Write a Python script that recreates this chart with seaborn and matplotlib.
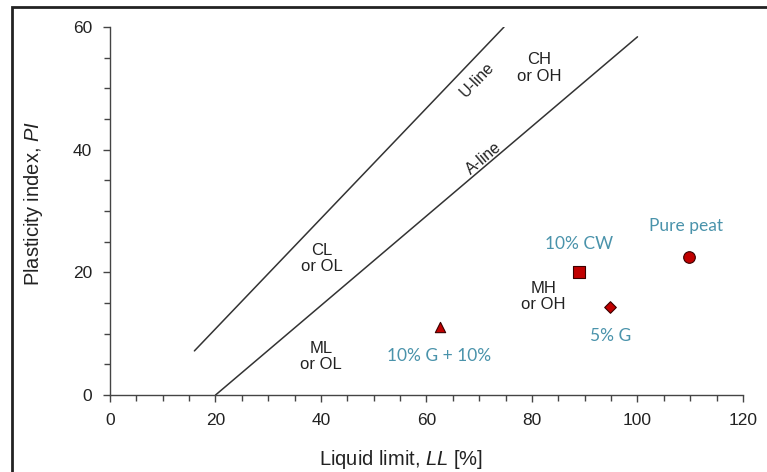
import numpy as np
import pandas as pd
import seaborn as sns
import matplotlib.pyplot as plt
from matplotlib.ticker import MultipleLocator
from matplotlib.patches import Rectangle

# -------------------------------
# data
# -------------------------------
U_LL = [16, 74.7]
U_PI = [7.2, 60]
A_LL = [20, 100]
A_PI = [0, 58.4]

SAMPLES = ["10% G + 10%", "10% CW", "5% G", "Pure peat"]
SAMPLE_LL = [62.5, 89.0, 94.8, 109.7]
SAMPLE_PI = [11.1, 20.0, 14.3, 22.5]
SAMPLE_MARKERS = ["^", "s", "D", "o"]
SAMPLE_SIZES = [55, 80, 35, 70]
LABEL_LL = [62.4, 89.0, 94.9, 109.2]
LABEL_PI = [6.4, 24.6, 9.7, 27.5]

ZONES = ["CL\nor OL", "ML\nor OL", "MH\nor OH", "CH\nor OH"]
ZONE_LL = [40.2, 40.0, 82.1, 81.4]
ZONE_PI = [22.2, 6.3, 16.1, 53.3]

sns.set_style("ticks")
plt.rcParams["font.family"] = ["Liberation Sans", "DejaVu Sans"]
plt.rcParams["mathtext.fontset"] = "custom"
plt.rcParams["mathtext.rm"] = "Liberation Sans"
plt.rcParams["mathtext.it"] = "Liberation Sans:italic"

LINE_C = "#333333"
TEXT_C = "#222222"
BLUE = "#4a93ab"

fig = plt.figure(figsize=(7.67, 4.72), dpi=100)
ax = fig.add_axes([0.1434, 0.163, 0.8253, 0.7798])

lines = pd.DataFrame({
    "LL": U_LL + A_LL,
    "PI": U_PI + A_PI,
    "line": ["U"] * len(U_LL) + ["A"] * len(A_LL),
})
sns.lineplot(data=lines, x="LL", y="PI", units="line", estimator=None,
             color=LINE_C, lw=1.1, ax=ax, sort=False)

samples = pd.DataFrame({"LL": SAMPLE_LL, "PI": SAMPLE_PI, "name": SAMPLES})
for i, row in samples.iterrows():
    sns.scatterplot(x=[row.LL], y=[row.PI], marker=SAMPLE_MARKERS[i],
                    s=SAMPLE_SIZES[i], color="#c00000", edgecolor="#3a0000",
                    linewidth=0.8, ax=ax, zorder=3)

for name, x, y in zip(SAMPLES, LABEL_LL, LABEL_PI):
    ax.text(x, y, name, color=BLUE, fontsize=12.5, family=["Lato", "DejaVu Sans"],
            ha="center", va="center")

for name, x, y in zip(ZONES, ZONE_LL, ZONE_PI):
    ax.text(x, y, name, color=TEXT_C, fontsize=12, ha="center", va="center",
            linespacing=1.1)

ax.text(69.5, 51.4, "U-line", color=TEXT_C, fontsize=11.5, rotation=46,
        ha="center", va="center")
ax.text(70.8, 38.6, "A-line", color=TEXT_C, fontsize=11.5, rotation=40,
        ha="center", va="center")

ax.set_xlim(0, 120)
ax.set_ylim(0, 60)
ax.xaxis.set_major_locator(MultipleLocator(20))
ax.xaxis.set_minor_locator(MultipleLocator(5))
ax.yaxis.set_major_locator(MultipleLocator(20))
ax.yaxis.set_minor_locator(MultipleLocator(5))
ax.tick_params(which="major", length=5, width=1, color="#444444",
               labelsize=12.5, labelcolor=TEXT_C, pad=8)
ax.tick_params(which="minor", length=4, width=1, color="#444444")
for side in ["left", "bottom"]:
    ax.spines[side].set_color("#444444")
    ax.spines[side].set_linewidth(1)
sns.despine(ax=ax)

ax.set_xlabel(r"Liquid limit, $\mathit{LL}$ [%]", fontsize=14.5, color=TEXT_C)
ax.set_ylabel(r"Plasticity index, $\mathit{PI}$", fontsize=14.5, color=TEXT_C)
ax.xaxis.set_label_coords(0.46, -0.145)
ax.yaxis.set_label_coords(-0.102, 0.52)

# frame of the original figure (right and bottom edges are cropped off)
fig.add_artist(Rectangle((12 / 767, -0.1), 1.2, 1.1 - 7 / 472,
                         transform=fig.transFigure, fill=False,
                         edgecolor="#222222", lw=2))

fig.savefig("out.png", dpi=100)
